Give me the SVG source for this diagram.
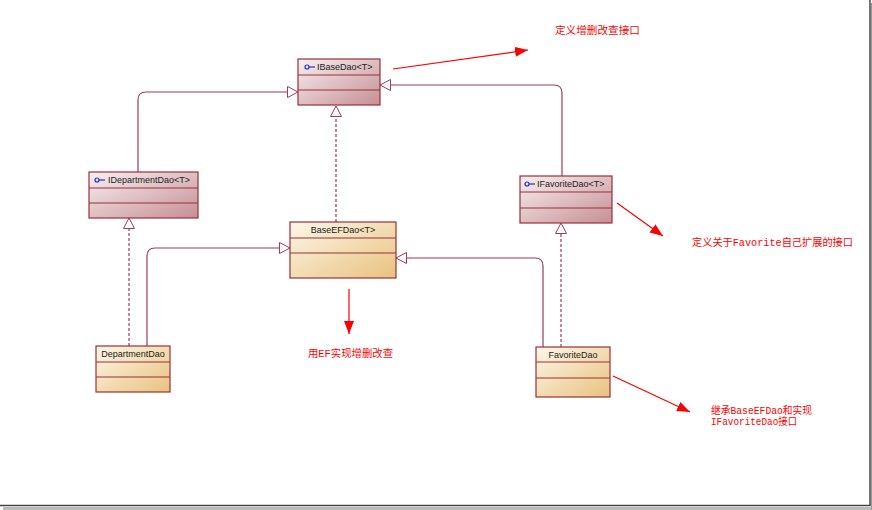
<svg xmlns="http://www.w3.org/2000/svg" width="872" height="510" viewBox="0 0 872 510">
<defs>
<linearGradient id="gI" x1="0" y1="0" x2="1" y2="1"><stop offset="0" stop-color="#f8eff0"/><stop offset="1" stop-color="#c58f95"/></linearGradient>
<linearGradient id="gC" x1="0" y1="0" x2="1" y2="1"><stop offset="0" stop-color="#fdf7e9"/><stop offset="1" stop-color="#e8c27e"/></linearGradient>
<marker id="tri" markerWidth="12" markerHeight="12" refX="11" refY="6" orient="auto" markerUnits="userSpaceOnUse"><path d="M0.5,0.5 L11,6 L0.5,11.5 Z" fill="#fff" stroke="#a03a60" stroke-width="1"/></marker>
<marker id="red" markerWidth="14" markerHeight="12" refX="13" refY="5" orient="auto" markerUnits="userSpaceOnUse"><path d="M0,0 L13,5 L0,10 Z" fill="#ff0000"/></marker>
</defs>
<style>
.box{stroke:#9b2f3a;stroke-width:1.2}
.div{stroke:#9b2f3a;stroke-width:1.2}
.lbl{font-family:"Liberation Sans",Arial,sans-serif;font-size:9px;fill:#222}
.con{fill:none;stroke:#a03a60;stroke-width:1.2}
.dash{stroke-dasharray:3,2}
.note{font-family:"Liberation Mono","Noto Sans CJK SC",monospace;font-size:10.5px;fill:#ff0000}
.rl{stroke:#ff0000;stroke-width:1.2;fill:none}
.icon{stroke:#2233cc;stroke-width:1.2;fill:none}
</style>
<rect x="0" y="0" width="872" height="510" fill="#fff"/>
<rect x="871" y="3" width="1" height="507" fill="#bbb"/>
<rect x="3" y="507" width="869" height="3" fill="#bbb"/>
<rect x="871" y="3" width="1" height="507" fill="#999"/>
<line x1="870" y1="0" x2="870" y2="506" stroke="#444" stroke-width="1.5"/>
<line x1="0" y1="505.5" x2="870.5" y2="505.5" stroke="#444" stroke-width="1.5"/>

<g id="connectors">
<path class="con" d="M138,172 V100 Q138,92 146,92 H298" marker-end="url(#tri)"/>
<path class="con" d="M562,176 V93 Q562,85 554,85 H380" marker-end="url(#tri)"/>
<path class="con dash" d="M336,222 V106" marker-end="url(#tri)"/>
<path class="con" d="M147,346 V256 Q147,248 155,248 H290" marker-end="url(#tri)"/>
<path class="con" d="M543,347 V266 Q543,258 535,258 H396" marker-end="url(#tri)"/>
<path class="con dash" d="M129,346 V218" marker-end="url(#tri)"/>
<path class="con dash" d="M561,347 V223" marker-end="url(#tri)"/>
</g>

<g id="IBaseDao">
<rect class="box" x="298" y="59" width="82" height="46" fill="url(#gI)"/>
<line class="div" x1="298" y1="75" x2="380" y2="75"/>
<line class="div" x1="298" y1="90" x2="380" y2="90"/>
<circle class="icon" cx="307" cy="67" r="2"/><line class="icon" x1="309" y1="67" x2="315" y2="67"/>
<text class="lbl" x="317" y="70">IBaseDao&lt;T&gt;</text>
</g>

<g id="IDepartmentDao">
<rect class="box" x="89" y="172" width="109" height="46" fill="url(#gI)"/>
<line class="div" x1="89" y1="188" x2="198" y2="188"/>
<line class="div" x1="89" y1="203" x2="198" y2="203"/>
<circle class="icon" cx="97" cy="180" r="2"/><line class="icon" x1="99" y1="180" x2="105" y2="180"/>
<text class="lbl" x="108" y="183">IDepartmentDao&lt;T&gt;</text>
</g>

<g id="IFavoriteDao">
<rect class="box" x="520" y="176" width="92" height="47" fill="url(#gI)"/>
<line class="div" x1="520" y1="192" x2="612" y2="192"/>
<line class="div" x1="520" y1="208" x2="612" y2="208"/>
<circle class="icon" cx="527" cy="184" r="2"/><line class="icon" x1="529" y1="184" x2="535" y2="184"/>
<text class="lbl" x="537" y="187">IFavoriteDao&lt;T&gt;</text>
</g>

<g id="BaseEFDao">
<rect class="box" x="290" y="222" width="106" height="56" fill="url(#gC)"/>
<line class="div" x1="290" y1="238" x2="396" y2="238"/>
<line class="div" x1="290" y1="253" x2="396" y2="253"/>
<text class="lbl" x="343" y="233" text-anchor="middle">BaseEFDao&lt;T&gt;</text>
</g>

<g id="DepartmentDao">
<rect class="box" x="96" y="346" width="74" height="46" fill="url(#gC)"/>
<line class="div" x1="96" y1="362" x2="170" y2="362"/>
<line class="div" x1="96" y1="377" x2="170" y2="377"/>
<text class="lbl" x="133" y="357" text-anchor="middle">DepartmentDao</text>
</g>

<g id="FavoriteDao">
<rect class="box" x="536" y="347" width="74" height="50" fill="url(#gC)"/>
<line class="div" x1="536" y1="362" x2="610" y2="362"/>
<line class="div" x1="536" y1="378" x2="610" y2="378"/>
<text class="lbl" x="573" y="358" text-anchor="middle">FavoriteDao</text>
</g>

<g id="annotations">
<line class="rl" x1="393" y1="69" x2="528" y2="50" marker-end="url(#red)"/>
<text class="note" x="555" y="34" textLength="85" lengthAdjust="spacingAndGlyphs">定义增删改查接口</text>
<line class="rl" x1="617" y1="203" x2="663" y2="236" marker-end="url(#red)"/>
<text class="note" x="692" y="246" textLength="161" lengthAdjust="spacingAndGlyphs">定义关于Favorite自己扩展的接口</text>
<line class="rl" x1="349" y1="289" x2="349" y2="334" marker-end="url(#red)"/>
<text class="note" x="308" y="357" textLength="85" lengthAdjust="spacingAndGlyphs">用EF实现增删改查</text>
<line class="rl" x1="613" y1="376" x2="690" y2="412" marker-end="url(#red)"/>
<text class="note" x="711" y="414" textLength="101" lengthAdjust="spacingAndGlyphs">继承BaseEFDao和实现</text>
<text class="note" x="711" y="425" textLength="86" lengthAdjust="spacingAndGlyphs">IFavoriteDao接口</text>
</g>
</svg>
